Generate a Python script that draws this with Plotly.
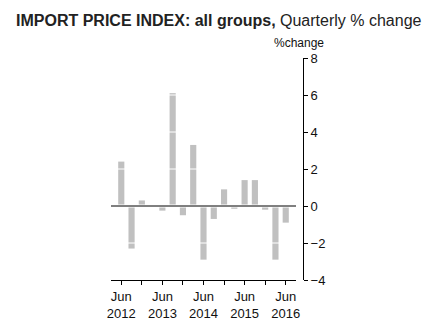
import plotly.graph_objects as go

quarters = ["Jun 2012", "Sep 2012", "Dec 2012", "Mar 2013", "Jun 2013", "Sep 2013",
            "Dec 2013", "Mar 2014", "Jun 2014", "Sep 2014", "Dec 2014", "Mar 2015",
            "Jun 2015", "Sep 2015", "Dec 2015", "Mar 2016", "Jun 2016"]
pct_change = [2.4, -2.3, 0.3, 0.0, -0.25, 6.1, -0.5, 3.3, -2.9, -0.7, 0.9, -0.15,
              1.4, 1.4, -0.2, -2.9, -0.9]
y_ticks = [-4, -2, 0, 2, 4, 6, 8]
x_tickvals = [0, 2, 4, 6, 8, 10, 12, 14, 16]
x_ticktext = ["Jun<br>2012", "", "Jun<br>2013", "", "Jun<br>2014", "", "Jun<br>2015", "", "Jun<br>2016"]

W, H = 442, 331
FONT = "Liberation Sans, Arial, sans-serif"

x_idx = list(range(len(quarters)))

fig = go.Figure(go.Bar(
    x=x_idx, y=pct_change, width=0.6,
    marker=dict(color="#C0C0C0", line=dict(width=0)),
    hovertext=quarters,
))

xd = [111 / W, 296 / W]
yd = [1 - 280 / H, 1 - 58 / H]

shapes = []
for t in y_ticks:
    if t == 0:
        continue
    shapes.append(dict(type="line", xref="paper", yref="y", x0=xd[0], x1=xd[1], y0=t, y1=t,
                       line=dict(color="white", width=1), layer="above"))
shapes.append(dict(type="line", xref="paper", yref="y", x0=xd[0], x1=xd[1], y0=0, y1=0,
                   line=dict(color="white", width=3), layer="above"))
shapes.append(dict(type="line", xref="paper", yref="y", x0=xd[0], x1=xd[1], y0=0, y1=0,
                   line=dict(color="black", width=1), layer="above"))

fig.update_layout(
    template="none",
    width=W, height=H,
    margin=dict(l=0, r=0, t=0, b=0, autoexpand=False),
    paper_bgcolor="white", plot_bgcolor="white",
    showlegend=False,
    font=dict(family=FONT, size=13, color="#111"),
    title=dict(
        text="<b>IMPORT PRICE INDEX: all groups,</b> Quarterly % change",
        x=16 / W, xanchor="left", y=1 - 20 / H, yanchor="middle",
        font=dict(family=FONT, size=16, color="#222"),
    ),
    xaxis=dict(
        domain=xd, range=[-1, 17], automargin=False,
        tickmode="array", tickvals=x_tickvals, ticktext=x_ticktext,
        ticks="outside", ticklen=4, tickcolor="black", tickwidth=1,
        showline=True, linecolor="black", linewidth=1,
        showgrid=False, zeroline=False,
        tickfont=dict(size=13, color="#111"),
    ),
    yaxis=dict(
        domain=yd, range=[-4, 8], automargin=False,
        side="right", anchor="free", position=303 / W,
        tickmode="array", tickvals=y_ticks,
        ticktext=[str(v).replace("-", "\u2212") for v in y_ticks],
        ticks="outside", ticklen=4, tickcolor="black", tickwidth=1,
        showline=True, linecolor="black", linewidth=1,
        showgrid=False, zeroline=False,
        tickfont=dict(size=13, color="#111"),
    ),
    shapes=shapes,
    annotations=[dict(
        text="%change", xref="paper", yref="paper",
        x=299 / W, y=1 - 43 / H, xanchor="center", yanchor="middle",
        showarrow=False, font=dict(family=FONT, size=12, color="#111"),
    )],
)

fig.write_html("out.html")
